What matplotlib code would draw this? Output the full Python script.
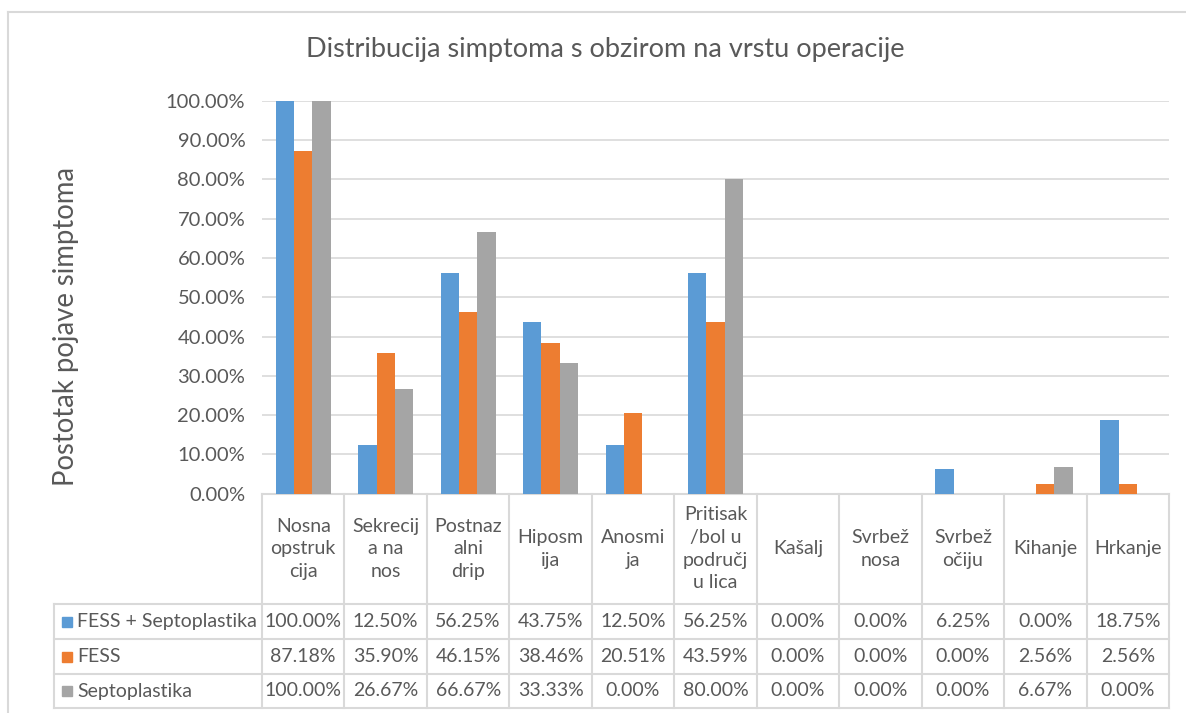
import matplotlib.pyplot as plt
import numpy as np

# Data
categories = ["Nosna\nopstruk\ncija", "Sekrecij\na na\nnos", "Postnaz\nalni\ndrip",
              "Hiposm\nija", "Anosmi\nja", "Pritisak\n/bol u\npodručj\nu lica",
              "Kašalj", "Svrbež\nnosa", "Svrbež\nočiju", "Kihanje", "Hrkanje"]
series_names = ["FESS + Septoplastika", "FESS", "Septoplastika"]
fess_septo = [100.00, 12.50, 56.25, 43.75, 12.50, 56.25, 0.00, 0.00, 6.25, 0.00, 18.75]
fess = [87.18, 35.90, 46.15, 38.46, 20.51, 43.59, 0.00, 0.00, 0.00, 2.56, 2.56]
septo = [100.00, 26.67, 66.67, 33.33, 0.00, 80.00, 0.00, 0.00, 0.00, 6.67, 0.00]
colors = ["#5B9BD5", "#ED7D31", "#A5A5A5"]

W, H = 1186, 713
txt = "#595959"
grid = "#D9D9D9"
plt.rcParams['font.family'] = ['Lato', 'DejaVu Sans']
fs = 14

fig = plt.figure(figsize=(W / 100, H / 100), dpi=100)

# overlay in pixel coordinates for frame + data table
ov = fig.add_axes([0, 0, 1, 1])
ov.set_xlim(0, W)
ov.set_ylim(H, 0)
ov.axis('off')

# plot area (pixels)
left, right, top, bottom = 262, 1169, 100.7, 493.7
ax = fig.add_axes([left / W, (H - bottom) / H, (right - left) / W, (bottom - top) / H])

all_series = [fess_septo, fess, septo]
n = len(categories)
x = np.arange(n)
bw = 0.222
for i, (vals, c) in enumerate(zip(all_series, colors)):
    ax.bar(x + (i - 1) * bw, vals, width=bw, color=c, zorder=3)

ax.set_xlim(-0.5, n - 0.5)
ax.set_ylim(0, 100)
ax.set_yticks(np.arange(0, 101, 10))
ax.set_yticklabels([f"{v:.2f}%" for v in np.arange(0, 101, 10)], fontsize=14.5, color=txt)
ax.set_xticks([])
ax.tick_params(axis='y', length=0, pad=12)
ax.yaxis.grid(True, color=grid, lw=1.2, zorder=0)
for s in ax.spines.values():
    s.set_visible(False)
ax.patch.set_alpha(0)

# chart outer border
ov.plot([8, 8], [12, H], color=grid, lw=1.5)
ov.plot([8, W], [12, 12], color=grid, lw=1.5)

# title and y label
ov.text(605, 50, "Distribucija simptoma s obzirom na vrstu operacije",
        ha='center', va='center', fontsize=19.5, color=txt)
ov.text(66, 327, "Postotak pojave simptoma", ha='center', va='center',
        rotation=90, fontsize=19.8, color=txt)

# data table
col_w = (right - left) / n
row_edges = [bottom, 604, 639, 674, 708]
leg_left = 54
lw_t = 1.5
# horizontal lines
ov.plot([left, right], [bottom, bottom], color=grid, lw=lw_t)
for y in row_edges[1:]:
    ov.plot([leg_left, right], [y, y], color=grid, lw=lw_t)
# vertical lines
for j in range(n + 1):
    xx = left + j * col_w
    ov.plot([xx, xx], [bottom, row_edges[-1]], color=grid, lw=lw_t)
ov.plot([leg_left, leg_left], [row_edges[1], row_edges[-1]], color=grid, lw=lw_t)

# header labels
for j, cat in enumerate(categories):
    ov.text(left + (j + 0.5) * col_w, (bottom + row_edges[1]) / 2, cat,
            ha='center', va='center', fontsize=fs, color=txt, linespacing=1.4)

# value rows
for i, (name, vals, c) in enumerate(zip(series_names, all_series, colors)):
    yc = (row_edges[i + 1] + row_edges[i + 2]) / 2
    ov.add_patch(plt.Rectangle((62, yc - 5), 10, 10, color=c))
    ov.text(77, yc, name, ha='left', va='center', fontsize=fs, color=txt)
    for j, v in enumerate(vals):
        ov.text(left + (j + 0.5) * col_w, yc, f"{v:.2f}%", ha='center', va='center',
                fontsize=fs, color=txt)

fig.savefig("out.png", dpi=100)
